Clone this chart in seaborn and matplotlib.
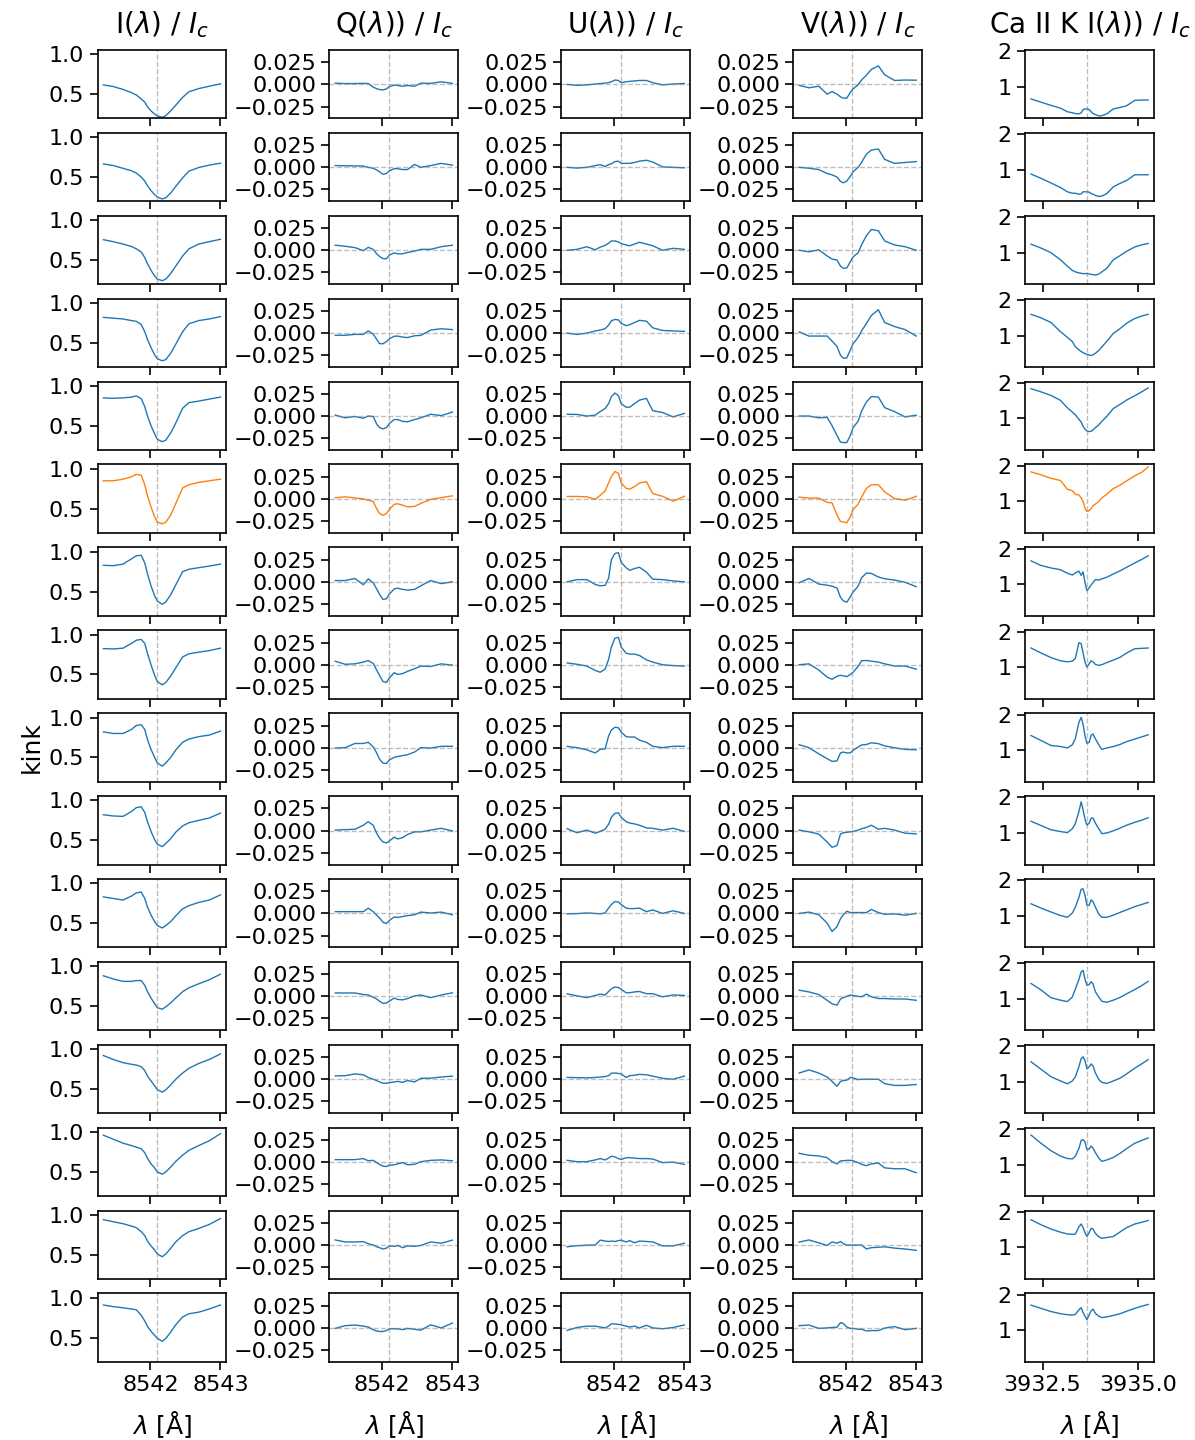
import matplotlib
matplotlib.use('Agg')
import matplotlib.pyplot as plt
import matplotlib.ticker as mticker
import seaborn as sns

# wavelength grids
wl_8542 = [8541.33, 8541.47, 8541.61, 8541.73, 8541.80, 8541.87, 8541.92, 8541.96, 8542.01, 8542.06,
           8542.10, 8542.17, 8542.22, 8542.29, 8542.36, 8542.46, 8542.55, 8542.69, 8542.84, 8543.00]
wl_cak = [3932.20, 3932.46, 3932.72, 3932.97, 3933.15, 3933.28, 3933.36, 3933.45, 3933.51, 3933.56,
          3933.61, 3933.66, 3933.72, 3933.77, 3933.82, 3933.88, 3933.97, 3934.05, 3934.18, 3934.35,
          3934.53, 3934.70, 3934.91, 3935.09, 3935.26]
line_center_8542 = 8542.09
line_center_cak = 3933.66
highlight_row = 5

# Stokes I / Ic, Ca II 8542, one list per row
i_prof = [
    [0.617, 0.596, 0.56, 0.52, 0.49, 0.44, 0.40, 0.34, 0.29, 0.25, 0.227, 0.21, 0.23, 0.29, 0.36, 0.46, 0.53, 0.57, 0.60, 0.63],
    [0.665, 0.645, 0.61, 0.58, 0.55, 0.50, 0.45, 0.39, 0.33, 0.28, 0.25, 0.225, 0.24, 0.30, 0.38, 0.49, 0.575, 0.62, 0.65, 0.675],
    [0.755, 0.73, 0.70, 0.67, 0.64, 0.60, 0.53, 0.45, 0.37, 0.30, 0.26, 0.24, 0.26, 0.33, 0.42, 0.55, 0.64, 0.70, 0.73, 0.76],
    [0.82, 0.81, 0.80, 0.78, 0.77, 0.73, 0.64, 0.54, 0.44, 0.35, 0.30, 0.275, 0.29, 0.37, 0.48, 0.64, 0.74, 0.78, 0.80, 0.83],
    [0.85, 0.845, 0.85, 0.86, 0.875, 0.84, 0.74, 0.62, 0.50, 0.40, 0.33, 0.30, 0.32, 0.41, 0.53, 0.72, 0.79, 0.81, 0.835, 0.86],
    [0.85, 0.85, 0.87, 0.90, 0.93, 0.92, 0.80, 0.66, 0.52, 0.40, 0.33, 0.31, 0.33, 0.42, 0.56, 0.76, 0.80, 0.83, 0.85, 0.87],
    [0.83, 0.825, 0.845, 0.91, 0.95, 0.955, 0.86, 0.72, 0.57, 0.45, 0.38, 0.34, 0.37, 0.46, 0.58, 0.75, 0.78, 0.80, 0.82, 0.845],
    [0.825, 0.82, 0.83, 0.89, 0.93, 0.94, 0.89, 0.76, 0.62, 0.49, 0.41, 0.37, 0.40, 0.48, 0.58, 0.72, 0.76, 0.78, 0.80, 0.83],
    [0.82, 0.80, 0.80, 0.85, 0.90, 0.91, 0.85, 0.72, 0.60, 0.50, 0.43, 0.39, 0.43, 0.50, 0.59, 0.69, 0.73, 0.76, 0.78, 0.83],
    [0.82, 0.805, 0.80, 0.86, 0.91, 0.92, 0.85, 0.73, 0.61, 0.51, 0.45, 0.42, 0.46, 0.52, 0.60, 0.68, 0.72, 0.75, 0.78, 0.84],
    [0.83, 0.81, 0.79, 0.84, 0.88, 0.89, 0.81, 0.70, 0.60, 0.52, 0.47, 0.44, 0.47, 0.52, 0.59, 0.68, 0.72, 0.76, 0.79, 0.855],
    [0.88, 0.84, 0.81, 0.81, 0.82, 0.82, 0.76, 0.68, 0.60, 0.53, 0.48, 0.46, 0.49, 0.54, 0.60, 0.68, 0.73, 0.78, 0.83, 0.90],
    [0.92, 0.87, 0.83, 0.81, 0.80, 0.78, 0.73, 0.66, 0.60, 0.54, 0.49, 0.46, 0.49, 0.55, 0.62, 0.70, 0.76, 0.82, 0.87, 0.94],
    [0.96, 0.91, 0.86, 0.83, 0.81, 0.79, 0.74, 0.67, 0.60, 0.55, 0.50, 0.47, 0.50, 0.56, 0.63, 0.71, 0.77, 0.83, 0.89, 0.98],
    [0.94, 0.915, 0.89, 0.86, 0.84, 0.79, 0.74, 0.67, 0.61, 0.56, 0.51, 0.475, 0.51, 0.58, 0.66, 0.74, 0.79, 0.83, 0.88, 0.955],
    [0.91, 0.89, 0.875, 0.86, 0.85, 0.78, 0.71, 0.64, 0.58, 0.53, 0.49, 0.455, 0.49, 0.57, 0.66, 0.76, 0.80, 0.82, 0.86, 0.91],
]

q_prof = [
    [0.0014, 0.0010, 0.0010, 0.0012, 0.0010, -0.0030, -0.0048, -0.0058, -0.0062, -0.0050, -0.0025, -0.0008, -0.0012, -0.0020, -0.0012, -0.0020, 0.0014, 0.0012, 0.0030, 0.0012],
    [0.0020, 0.0018, 0.0016, 0.0014, 0.0000, -0.0010, -0.0030, -0.0050, -0.0078, -0.0070, -0.0040, -0.0015, -0.0015, -0.0025, -0.0025, 0.0033, 0.0000, 0.0020, 0.0045, 0.0025],
    [0.0057, 0.0045, 0.0030, -0.0005, 0.0033, 0.0010, -0.0040, -0.0070, -0.0095, -0.0095, -0.0055, -0.0030, -0.0040, -0.0040, -0.0025, -0.0010, 0.0010, 0.0010, 0.0040, 0.0057],
    [-0.0024, -0.0024, -0.0014, -0.0014, 0.0025, -0.0010, -0.0070, -0.0118, -0.0120, -0.0095, -0.0065, -0.0035, -0.0033, -0.0045, -0.0050, -0.0030, -0.0025, 0.0035, 0.0050, 0.0040],
    [0.0010, -0.0020, -0.0005, -0.0025, 0.0000, -0.0005, -0.0090, -0.0130, -0.0145, -0.0130, -0.0085, -0.0040, -0.0040, -0.0060, -0.0065, -0.0040, -0.0020, 0.0020, 0.0005, 0.0045],
    [0.0014, 0.0024, 0.0012, 0.0000, -0.0015, -0.0028, -0.0110, -0.0165, -0.0185, -0.0165, -0.0120, -0.0060, -0.0055, -0.0070, -0.0090, -0.0085, -0.0050, -0.0005, 0.0015, 0.0035],
    [0.0014, 0.0014, 0.0038, -0.0033, 0.0033, -0.0010, -0.0080, -0.0140, -0.0200, -0.0190, -0.0140, -0.0080, -0.0072, -0.0085, -0.0094, -0.0085, -0.0045, 0.0015, -0.0020, 0.0000],
    [0.0040, 0.0005, 0.0010, 0.0030, 0.0047, 0.0015, -0.0060, -0.0120, -0.0190, -0.0200, -0.0150, -0.0090, -0.0110, -0.0100, -0.0075, -0.0045, -0.0015, -0.0020, 0.0010, -0.0005],
    [-0.0005, 0.0000, 0.0047, 0.0047, 0.0060, 0.0010, -0.0060, -0.0130, -0.0175, -0.0180, -0.0140, -0.0110, -0.0100, -0.0090, -0.0080, -0.0050, 0.0000, -0.0005, 0.0015, 0.0015],
    [0.0005, 0.0010, 0.0014, 0.0060, 0.0100, 0.0060, -0.0030, -0.0085, -0.0130, -0.0140, -0.0120, -0.0075, -0.0095, -0.0080, -0.0045, -0.0015, -0.0015, 0.0005, 0.0025, -0.0005],
    [0.0020, 0.0020, 0.0020, 0.0020, 0.0060, 0.0020, -0.0020, -0.0050, -0.0100, -0.0115, -0.0080, -0.0040, -0.0045, -0.0035, -0.0025, -0.0015, 0.0015, 0.0005, 0.0015, -0.0015],
    [0.0038, 0.0038, 0.0038, 0.0020, 0.0015, -0.0010, -0.0030, -0.0055, -0.0080, -0.0075, -0.0055, -0.0020, -0.0035, -0.0040, -0.0025, 0.0005, 0.0015, -0.0015, 0.0015, 0.0040],
    [0.0038, 0.0040, 0.0060, 0.0050, 0.0020, 0.0000, -0.0015, -0.0030, -0.0045, -0.0045, -0.0040, -0.0030, -0.0025, -0.0035, -0.0015, -0.0030, 0.0010, 0.0012, 0.0025, 0.0035],
    [0.0028, 0.0028, 0.0028, 0.0040, 0.0015, 0.0020, -0.0005, -0.0025, -0.0045, -0.0050, -0.0035, -0.0030, -0.0020, -0.0005, -0.0030, -0.0025, 0.0005, 0.0020, 0.0025, 0.0015],
    [0.0057, 0.0035, 0.0035, 0.0038, 0.0015, 0.0000, -0.0020, -0.0030, -0.0045, -0.0035, -0.0010, -0.0015, -0.0005, -0.0030, -0.0010, -0.0015, -0.0005, 0.0035, 0.0020, 0.0055],
    [-0.0005, 0.0025, 0.0033, 0.0020, 0.0010, -0.0020, -0.0035, -0.0040, -0.0040, -0.0030, -0.0010, -0.0010, -0.0010, -0.0020, -0.0005, -0.0015, -0.0025, 0.0035, 0.0000, 0.0055],
]

u_prof = [
    [0.0000, -0.0010, -0.0005, 0.0005, 0.0010, 0.0015, 0.0020, 0.0030, 0.0050, 0.0045, 0.0020, 0.0030, 0.0035, 0.0040, 0.0045, 0.0045, 0.0020, -0.0005, 0.0005, 0.0010],
    [0.0000, -0.0008, 0.0000, 0.0020, 0.0030, 0.0010, 0.0030, 0.0040, 0.0065, 0.0070, 0.0045, 0.0045, 0.0045, 0.0055, 0.0070, 0.0080, 0.0060, 0.0005, 0.0000, -0.0005],
    [0.0000, 0.0010, 0.0040, 0.0005, 0.0035, 0.0055, 0.0080, 0.0105, 0.0105, 0.0095, 0.0075, 0.0060, 0.0050, 0.0070, 0.0090, 0.0070, 0.0050, 0.0000, 0.0022, 0.0010],
    [0.0000, -0.0015, 0.0000, 0.0025, 0.0035, 0.0050, 0.0090, 0.0140, 0.0155, 0.0150, 0.0110, 0.0085, 0.0095, 0.0120, 0.0145, 0.0135, 0.0060, 0.0030, 0.0025, 0.0020],
    [0.0020, 0.0018, 0.0000, 0.0010, 0.0050, 0.0085, 0.0140, 0.0220, 0.0260, 0.0230, 0.0140, 0.0100, 0.0100, 0.0140, 0.0180, 0.0200, 0.0060, 0.0040, -0.0010, 0.0030],
    [0.0028, 0.0028, 0.0024, -0.0005, 0.0040, 0.0090, 0.0180, 0.0255, 0.0310, 0.0290, 0.0180, 0.0120, 0.0110, 0.0140, 0.0180, 0.0195, 0.0060, 0.0030, -0.0025, 0.0030],
    [0.0000, 0.0025, 0.0025, -0.0030, -0.0045, -0.0040, 0.0040, 0.0250, 0.0320, 0.0330, 0.0220, 0.0160, 0.0130, 0.0150, 0.0165, 0.0110, 0.0030, 0.0025, 0.0010, 0.0000],
    [0.0020, 0.0005, -0.0015, -0.0065, -0.0085, -0.0050, 0.0060, 0.0200, 0.0300, 0.0310, 0.0200, 0.0130, 0.0120, 0.0120, 0.0105, 0.0055, 0.0030, 0.0000, -0.0010, -0.0015],
    [0.0014, 0.0000, -0.0025, -0.0060, -0.0020, -0.0015, 0.0130, 0.0200, 0.0230, 0.0225, 0.0175, 0.0125, 0.0120, 0.0120, 0.0085, 0.0060, 0.0015, 0.0000, 0.0015, 0.0015],
    [0.0020, -0.0025, 0.0005, -0.0030, -0.0010, 0.0015, 0.0070, 0.0150, 0.0195, 0.0200, 0.0150, 0.0100, 0.0085, 0.0075, 0.0060, 0.0030, 0.0025, 0.0005, 0.0025, -0.0010],
    [-0.0005, -0.0002, 0.0005, 0.0000, -0.0005, 0.0005, 0.0060, 0.0100, 0.0135, 0.0130, 0.0100, 0.0060, 0.0055, 0.0055, 0.0060, 0.0020, 0.0040, 0.0000, 0.0030, 0.0000],
    [0.0028, 0.0005, -0.0015, 0.0010, 0.0025, 0.0015, 0.0055, 0.0085, 0.0105, 0.0100, 0.0080, 0.0040, 0.0040, 0.0050, 0.0055, 0.0030, 0.0030, -0.0005, 0.0015, 0.0010],
    [0.0020, 0.0018, 0.0015, 0.0020, 0.0025, 0.0030, 0.0040, 0.0068, 0.0070, 0.0065, 0.0060, 0.0020, 0.0040, 0.0045, 0.0055, 0.0050, 0.0035, 0.0010, 0.0000, 0.0035],
    [0.0020, 0.0005, 0.0005, 0.0025, 0.0040, 0.0025, 0.0045, 0.0066, 0.0060, 0.0040, 0.0030, 0.0050, 0.0050, 0.0045, 0.0040, 0.0040, 0.0035, -0.0005, 0.0000, -0.0025],
    [-0.0020, -0.0008, -0.0002, 0.0000, 0.0055, 0.0045, 0.0040, 0.0045, 0.0040, 0.0050, 0.0055, 0.0035, 0.0050, 0.0025, 0.0045, 0.0040, 0.0035, -0.0010, -0.0010, 0.0020],
    [-0.0028, 0.0005, 0.0020, 0.0020, 0.0010, 0.0000, 0.0020, 0.0047, 0.0045, 0.0040, 0.0035, 0.0020, 0.0010, 0.0020, 0.0000, 0.0030, 0.0000, -0.0010, 0.0005, 0.0033],
]

v_prof = [
    [-0.0010, -0.0038, -0.0020, -0.0110, -0.0080, -0.0110, -0.0140, -0.0155, -0.0155, -0.0090, -0.0050, -0.0005, 0.0050, 0.0105, 0.0170, 0.0210, 0.0110, 0.0045, 0.0050, 0.0048],
    [0.0000, -0.0010, -0.0025, -0.0070, -0.0085, -0.0110, -0.0160, -0.0175, -0.0155, -0.0100, -0.0050, 0.0000, 0.0055, 0.0150, 0.0195, 0.0208, 0.0090, 0.0045, 0.0055, 0.0065],
    [0.0000, -0.0018, 0.0005, -0.0065, -0.0100, -0.0110, -0.0180, -0.0205, -0.0200, -0.0130, -0.0075, -0.0030, 0.0060, 0.0165, 0.0235, 0.0220, 0.0105, 0.0060, 0.0040, 0.0000],
    [0.0014, -0.0033, -0.0033, -0.0033, -0.0090, -0.0150, -0.0250, -0.0283, -0.0280, -0.0190, -0.0120, -0.0050, 0.0025, 0.0110, 0.0200, 0.0265, 0.0120, 0.0075, 0.0040, -0.0033],
    [0.0000, 0.0000, -0.0020, -0.0015, -0.0110, -0.0220, -0.0295, -0.0300, -0.0300, -0.0220, -0.0130, -0.0060, 0.0055, 0.0160, 0.0220, 0.0215, 0.0095, 0.0050, -0.0010, 0.0010],
    [0.0020, 0.0010, 0.0010, -0.0040, -0.0045, -0.0180, -0.0255, -0.0260, -0.0270, -0.0200, -0.0120, -0.0060, 0.0020, 0.0120, 0.0160, 0.0160, 0.0080, 0.0005, -0.0015, 0.0030],
    [-0.0010, 0.0038, -0.0025, -0.0038, -0.0050, -0.0070, -0.0175, -0.0215, -0.0230, -0.0170, -0.0115, -0.0050, 0.0045, 0.0100, 0.0095, 0.0055, 0.0035, 0.0020, -0.0005, -0.0055],
    [0.0000, 0.0010, -0.0060, -0.0140, -0.0165, -0.0130, -0.0120, -0.0125, -0.0135, -0.0110, -0.0085, -0.0020, 0.0045, 0.0048, 0.0040, 0.0030, 0.0010, -0.0015, -0.0015, -0.0050],
    [0.0033, 0.0000, -0.0070, -0.0125, -0.0156, -0.0150, -0.0060, -0.0050, -0.0060, -0.0060, -0.0030, 0.0005, 0.0030, 0.0035, 0.0055, 0.0045, 0.0020, -0.0002, -0.0020, -0.0025],
    [0.0005, -0.0015, -0.0040, -0.0130, -0.0190, -0.0170, -0.0040, -0.0025, -0.0020, -0.0015, -0.0010, 0.0005, 0.0020, 0.0035, 0.0060, 0.0015, 0.0025, 0.0005, -0.0030, -0.0038],
    [0.0000, 0.0015, -0.0015, -0.0110, -0.0205, -0.0150, -0.0060, -0.0015, 0.0025, 0.0010, 0.0010, 0.0010, 0.0010, 0.0010, 0.0045, 0.0010, -0.0010, -0.0005, -0.0020, 0.0000],
    [0.0070, 0.0050, 0.0020, -0.0045, -0.0085, -0.0100, -0.0030, -0.0015, 0.0000, 0.0015, 0.0010, 0.0000, -0.0005, 0.0025, -0.0005, -0.0025, -0.0025, -0.0030, -0.0030, -0.0045],
    [0.0070, 0.0105, 0.0070, 0.0025, -0.0025, -0.0080, -0.0025, -0.0015, -0.0010, 0.0020, 0.0015, -0.0005, 0.0000, 0.0000, 0.0000, 0.0000, -0.0050, -0.0070, -0.0070, -0.0060],
    [0.0100, 0.0078, 0.0070, 0.0050, 0.0005, -0.0020, 0.0015, 0.0015, 0.0020, 0.0020, 0.0015, -0.0005, -0.0025, -0.0040, -0.0020, -0.0010, -0.0065, -0.0075, -0.0075, -0.0120],
    [0.0033, 0.0057, 0.0025, -0.0005, 0.0035, 0.0020, 0.0040, 0.0015, 0.0000, 0.0000, 0.0000, 0.0000, 0.0000, -0.0045, -0.0030, -0.0025, -0.0020, -0.0035, -0.0045, -0.0060],
    [0.0025, 0.0033, -0.0005, 0.0000, 0.0005, 0.0008, 0.0060, 0.0050, 0.0010, -0.0005, -0.0005, -0.0015, -0.0015, -0.0035, -0.0030, -0.0030, -0.0002, 0.0015, -0.0020, -0.0005],
]

# Ca II K intensity / Ic
cak_prof = [
    [0.66, 0.57, 0.48, 0.40, 0.30, 0.27, 0.25, 0.24, 0.27, 0.36, 0.38, 0.38, 0.36, 0.30, 0.25, 0.22, 0.18, 0.19, 0.24, 0.38, 0.42, 0.47, 0.62, 0.63, 0.63],
    [0.88, 0.76, 0.63, 0.50, 0.38, 0.34, 0.34, 0.31, 0.32, 0.38, 0.38, 0.38, 0.37, 0.33, 0.31, 0.28, 0.25, 0.26, 0.33, 0.52, 0.62, 0.70, 0.86, 0.86, 0.86],
    [1.24, 1.13, 1.00, 0.80, 0.62, 0.50, 0.46, 0.43, 0.42, 0.41, 0.41, 0.41, 0.40, 0.39, 0.38, 0.37, 0.40, 0.46, 0.56, 0.80, 0.92, 1.04, 1.16, 1.22, 1.26],
    [1.60, 1.50, 1.37, 1.11, 0.95, 0.83, 0.68, 0.60, 0.55, 0.52, 0.49, 0.47, 0.45, 0.44, 0.46, 0.50, 0.58, 0.68, 0.84, 1.06, 1.20, 1.35, 1.48, 1.55, 1.60],
    [1.84, 1.75, 1.65, 1.51, 1.30, 1.18, 1.10, 0.98, 0.90, 0.78, 0.70, 0.65, 0.63, 0.64, 0.68, 0.74, 0.82, 0.92, 1.06, 1.28, 1.40, 1.52, 1.64, 1.75, 1.86],
    [1.83, 1.75, 1.65, 1.59, 1.34, 1.30, 1.20, 1.18, 1.10, 1.00, 0.80, 0.72, 0.74, 0.80, 0.88, 0.92, 1.00, 1.10, 1.20, 1.36, 1.46, 1.58, 1.72, 1.82, 1.97],
    [1.66, 1.53, 1.46, 1.41, 1.31, 1.26, 1.32, 1.37, 1.25, 1.35, 1.05, 0.82, 0.90, 0.98, 1.05, 1.13, 1.12, 1.15, 1.20, 1.29, 1.38, 1.48, 1.60, 1.70, 1.80],
    [1.54, 1.40, 1.27, 1.18, 1.15, 1.17, 1.25, 1.69, 1.66, 1.40, 1.15, 1.00, 1.10, 1.18, 1.15, 1.08, 1.05, 1.07, 1.13, 1.20, 1.28, 1.40, 1.52, 1.53, 1.54],
    [1.41, 1.27, 1.13, 1.10, 1.06, 1.15, 1.33, 1.78, 1.92, 1.72, 1.40, 1.19, 1.22, 1.42, 1.45, 1.32, 1.15, 1.02, 1.06, 1.10, 1.16, 1.24, 1.31, 1.37, 1.43],
    [1.33, 1.21, 1.09, 1.04, 1.01, 1.12, 1.27, 1.60, 1.88, 1.65, 1.40, 1.22, 1.28, 1.42, 1.42, 1.28, 1.12, 0.98, 1.00, 1.06, 1.14, 1.22, 1.30, 1.36, 1.43],
    [1.34, 1.22, 1.11, 1.01, 0.96, 1.08, 1.25, 1.52, 1.75, 1.76, 1.58, 1.30, 1.30, 1.45, 1.40, 1.25, 1.05, 0.96, 0.96, 1.02, 1.10, 1.17, 1.26, 1.32, 1.38],
    [1.43, 1.25, 1.03, 0.96, 0.92, 1.05, 1.28, 1.54, 1.76, 1.80, 1.55, 1.38, 1.40, 1.48, 1.42, 1.20, 1.05, 0.93, 0.90, 0.96, 1.04, 1.14, 1.26, 1.37, 1.49],
    [1.56, 1.35, 1.14, 1.02, 0.94, 1.02, 1.14, 1.42, 1.65, 1.70, 1.60, 1.36, 1.42, 1.50, 1.44, 1.25, 1.06, 0.98, 0.95, 1.02, 1.10, 1.22, 1.38, 1.50, 1.62],
    [1.83, 1.60, 1.39, 1.24, 1.17, 1.16, 1.24, 1.45, 1.68, 1.70, 1.64, 1.42, 1.44, 1.52, 1.46, 1.34, 1.18, 1.09, 1.13, 1.20, 1.32, 1.45, 1.60, 1.68, 1.75],
    [1.78, 1.64, 1.52, 1.43, 1.38, 1.37, 1.38, 1.58, 1.66, 1.56, 1.42, 1.31, 1.42, 1.54, 1.52, 1.40, 1.30, 1.26, 1.28, 1.31, 1.44, 1.56, 1.66, 1.71, 1.76],
    [1.71, 1.62, 1.53, 1.47, 1.44, 1.43, 1.45, 1.58, 1.64, 1.50, 1.40, 1.30, 1.44, 1.55, 1.60, 1.48, 1.40, 1.36, 1.38, 1.42, 1.47, 1.54, 1.62, 1.68, 1.73],
]

titles = [r'I($\lambda$) / $I_c$', r'Q($\lambda$)) / $I_c$', r'U($\lambda$)) / $I_c$',
          r'V($\lambda$)) / $I_c$', r'Ca II K I($\lambda$)) / $I_c$']

plt.rcParams['font.size'] = 16
plt.rcParams['axes.linewidth'] = 1.2

n_rows = len(i_prof)
columns = [(wl_8542, i_prof), (wl_8542, q_prof), (wl_8542, u_prof), (wl_8542, v_prof), (wl_cak, cak_prof)]

fig, axes = plt.subplots(n_rows, 5, figsize=(11.95, 14.4), dpi=100, sharex='col')
fig.subplots_adjust(left=0.0816, right=0.9657, top=0.9653, bottom=0.0542, wspace=0.8, hspace=0.21)

for r in range(n_rows):
    color = 'C1' if r == highlight_row else 'C0'
    for c, (wl, prof) in enumerate(columns):
        ax = axes[r, c]
        sns.lineplot(x=wl, y=prof[r], ax=ax, color=color, lw=1.0, estimator=None, sort=False)
        center = line_center_cak if c == 4 else line_center_8542
        ax.axvline(center, color='gray', ls='--', lw=1.0, alpha=0.5)
        if c in (1, 2, 3):
            ax.axhline(0, color='gray', ls='--', lw=1.0, alpha=0.5)
            ax.set_ylim(-0.0385, 0.039)
            ax.set_yticks([-0.025, 0.0, 0.025])
        elif c == 0:
            ax.set_ylim(0.195, 1.055)
            ax.set_yticks([0.5, 1.0])
        else:
            ax.set_ylim(0.11, 2.04)
            ax.set_yticks([1, 2])
        ax.tick_params(length=6, width=1.2)
        ax.set_ylabel('')
        if r == 0:
            ax.set_title(titles[c], fontsize=20, pad=12)

for c in range(5):
    ax = axes[-1, c]
    if c == 4:
        ax.set_xticks([3932.5, 3935.0])
        ax.xaxis.set_major_formatter(mticker.FormatStrFormatter('%.1f'))
    else:
        ax.set_xticks([8542, 8543])
        ax.xaxis.set_major_formatter(mticker.FormatStrFormatter('%d'))
    ax.set_xlabel(r'$\lambda$ [Å]', fontsize=18, labelpad=10)

axes[8, 0].set_ylabel('kink', fontsize=18)

fig.savefig('out.png', dpi=100)
